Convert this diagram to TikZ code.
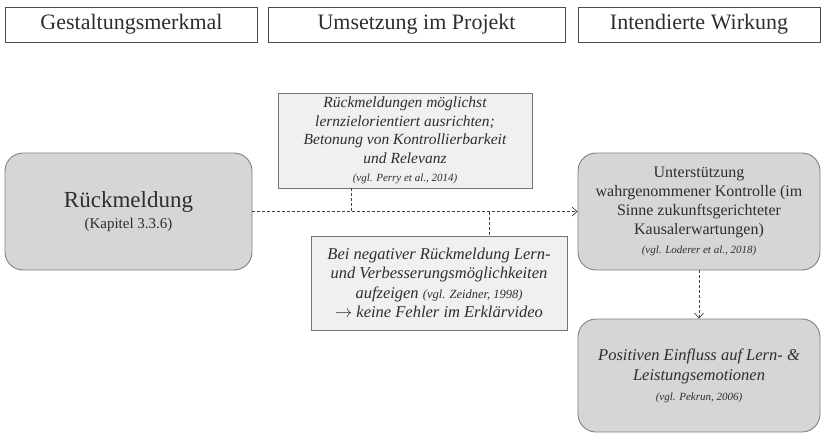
\documentclass[tikz,border=0pt]{standalone}
\usepackage{fontspec}
\setmainfont{Liberation Serif}
\usetikzlibrary{arrows.meta}

% small italic citation inside the boxes
\newcommand{\vglcite}[2][11]{{\fontsize{#1}{14}\selectfont\itshape #2}}

\begin{document}
\begin{tikzpicture}[x=1pt,y=-1pt,
    every node/.style={text=black!82},
    headbox/.style={draw=black!70, line width=0.8pt, inner sep=0pt,
        minimum height=35pt, font=\fontsize{22}{26}\selectfont},
    featbox/.style={draw=black!50, fill=black!16, line width=0.9pt,
        rounded corners=18pt, inner sep=0pt, align=center,
        minimum width=242pt},
    implbox/.style={draw=black!55, fill=black!6, line width=0.8pt,
        inner sep=0pt, align=center,
        font=\itshape\fontsize{15.5}{18.5}\selectfont},
    link/.style={densely dashed, draw=black!75, line width=0.7pt},
    tip/.style={-{Straight Barb[length=5pt,width=9pt]}}
]
    \useasboundingbox (0,0) rectangle (823,434);

    % Column headings
    \node[headbox, minimum width=252pt] (colfeat) at (131.5,24.5) {Gestaltungsmerkmal};
    \node[headbox, minimum width=297pt] (colimpl) at (416.5,24.5) {Umsetzung im Projekt};
    \node[headbox, minimum width=242pt] (coleff)  at (699,24.5)   {Intendierte Wirkung};

    % Feature
    \node[featbox, minimum width=247pt, minimum height=117pt] (rueck) at (128.5,211.5)
        {{\fontsize{23}{27}\selectfont R\"uckmeldung}\\[4pt]
         {\fontsize{15}{18}\selectfont (Kapitel 3.3.6)}};

    % Implementation
    \node[implbox, minimum width=254pt, minimum height=95pt] (implup) at (405,140.5)
        {R\"uckmeldungen m\"oglichst\\
         lernzielorientiert ausrichten;\\
         Betonung von Kontrollierbarkeit\\
         und Relevanz\\
         \vglcite{(vgl. Perry et al., 2014)}};
    \node[implbox, minimum width=256pt, minimum height=94pt,
          font=\itshape\fontsize{16.5}{19.5}\selectfont] (impldown) at (439,283)
        {Bei negativer R\"uckmeldung Lern-\\
         und Verbesserungsm\"oglichkeiten\\
         aufzeigen \vglcite[12.5]{(vgl. Zeidner, 1998)}\\
         $\rightarrow$ keine Fehler im Erkl\"arvideo};

    % Effects
    \node[featbox, minimum height=117pt, font=\fontsize{16}{19}\selectfont] (wirk) at (699,211.5)
        {Unterst\"utzung\\
         wahrgenommener Kontrolle (im\\
         Sinne zukunftsgerichteter\\
         Kausalerwartungen)\\
         \vglcite{(vgl. Loderer et al., 2018)}};
    \node[featbox, minimum height=113pt, font=\itshape\fontsize{16.5}{20}\selectfont] (emo) at (699,375.5)
        {Positiven Einfluss auf Lern- \&\\
         Leistungsemotionen\\
         \vglcite{(vgl. Pekrun, 2006)}};

    % Connectors
    \coordinate (joinup)   at (351,211.5);
    \coordinate (joindown) at (489,211.5);
    \draw[link, tip] (rueck.east) -- (wirk.west);
    \draw[link] (implup.south -| joinup) -- (joinup);
    \draw[link] (joindown) -- (impldown.north -| joindown);
    \draw[link, tip] (wirk.south) -- (emo.north);
\end{tikzpicture}
\end{document}
